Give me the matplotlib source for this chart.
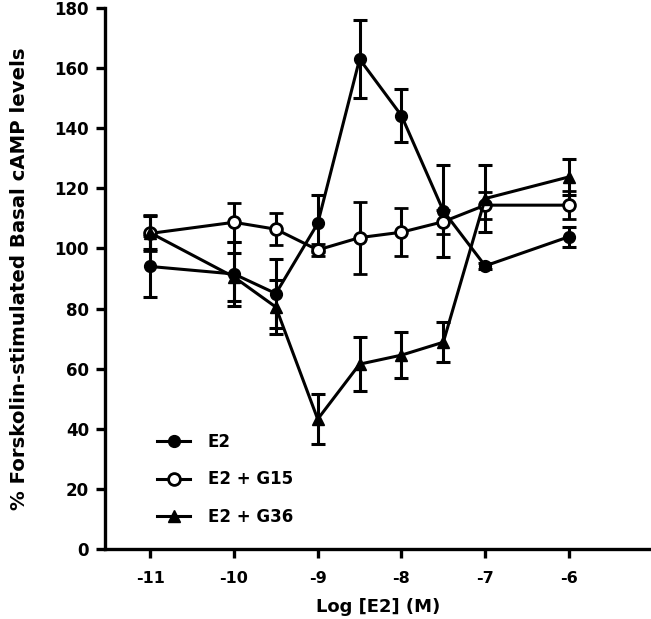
import matplotlib
matplotlib.use("Agg")
import matplotlib.pyplot as plt
from matplotlib.lines import Line2D

x = [-11, -10, -9.5, -9, -8.5, -8, -7.5, -7, -6]
e2 = [94, 91.5, 85, 108.3, 163, 144.2, 112.5, 94.2, 103.9]
e2_err = [10, 10.5, 11.5, 9.4, 13, 8.7, 15.3, 1.0, 3.4]
g15 = [105, 108.7, 106.4, 99.5, 103.6, 105.4, 108.9, 114.4, 114.4]
g15_err = [6, 6.5, 5.3, 2, 12, 7.9, 4, 4.5, 4.6]
g36 = [105.2, 90.5, 80.5, 43.2, 61.5, 64.5, 68.8, 116.6, 123.8]
g36_err = [5.5, 8, 9, 8.4, 9, 7.7, 6.7, 11, 6]

labels = ['E2', 'E2 + G15', 'E2 + G36']
xticks = [-11, -10, -9, -8, -7, -6]
yticks = list(range(0, 181, 20))

plt.rcParams['font.family'] = ['DejaVu Sans']
plt.rcParams['font.weight'] = 'bold'

fig = plt.figure(figsize=(6.51, 6.19), dpi=100)
W, H = 651, 619
ax = fig.add_axes([105 / W, 1 - 549 / H, (651 - 105) / W, (549 - 8) / H])

lw = 2.2
common = dict(color='black', lw=lw, elinewidth=lw, capsize=4.8, capthick=lw)
styles = [
    dict(marker='o', ms=8.5, mfc='black', mec='black'),
    dict(marker='o', ms=8.5, mfc='white', mec='black', mew=2),
    dict(marker='^', ms=8.5, mfc='black', mec='black'),
]
for ys, es, st in zip([e2, g15, g36], [e2_err, g15_err, g36_err], styles):
    ax.errorbar(x, ys, yerr=es, **st, **common)

ax.set_xlim(-11.54, -5.02)
ax.set_ylim(0, 180)
ax.set_xticks(xticks)
ax.set_xticklabels([str(t) for t in xticks])
ax.set_yticks(yticks)

for s in ['top', 'right']:
    ax.spines[s].set_visible(False)
for s in ['left', 'bottom']:
    ax.spines[s].set_linewidth(2.4)
ax.tick_params(width=2.4, length=6.5, labelsize=11.5, pad=5)
ax.tick_params(axis='y', labelsize=12)
ax.tick_params(axis='x', pad=9)
for lab in ax.get_xticklabels() + ax.get_yticklabels():
    lab.set_fontweight('bold')

ax.set_xlabel('Log [E2] (M)', fontsize=13, fontweight='bold', labelpad=9)
ax.set_ylabel('% Forskolin-stimulated Basal cAMP levels', fontsize=14.2, fontweight='bold', labelpad=18)

handles = [Line2D([], [], color='black', lw=lw, **st) for st in styles]
leg = fig.legend(handles, labels, loc='upper left', bbox_to_anchor=(157 / W, 1 - 433 / H),
                 frameon=False, fontsize=12, handlelength=2.0, labelspacing=1.17,
                 handletextpad=1.05, borderpad=0, borderaxespad=0)
for t in leg.get_texts():
    t.set_fontweight('bold')

fig.savefig('out.png', dpi=100)
